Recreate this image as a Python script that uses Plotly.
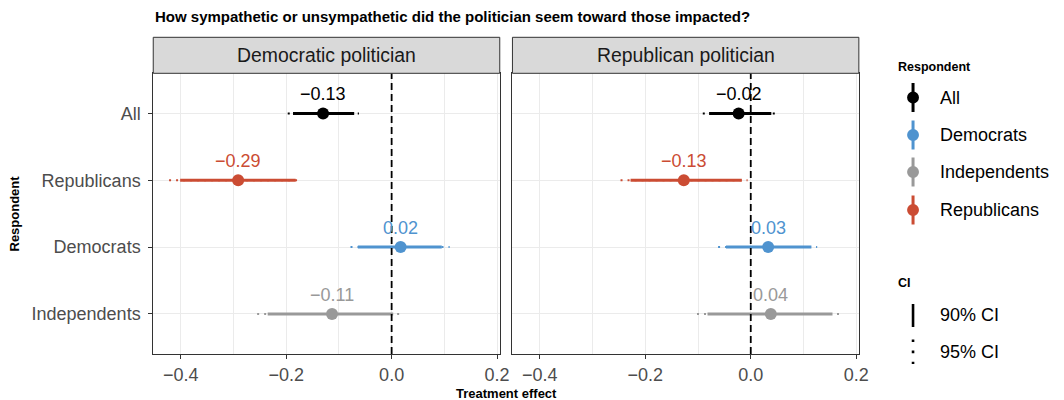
import plotly.graph_objects as go

# ---------------- data ----------------
groups = ["All", "Republicans", "Democrats", "Independents"]
panels = ["Democratic politician", "Republican politician"]

est_dem = [-0.130, -0.291, 0.017, -0.113]
lo90_dem = [-0.187, -0.401, -0.064, -0.235]
hi90_dem = [-0.071, -0.182, 0.095, 0.003]
lo95_dem = [-0.197, -0.422, -0.078, -0.255]
hi95_dem = [-0.062, -0.170, 0.110, 0.017]

est_rep = [-0.023, -0.127, 0.033, 0.038]
lo90_rep = [-0.079, -0.228, -0.047, -0.082]
hi90_rep = [0.039, -0.017, 0.115, 0.155]
lo95_rep = [-0.091, -0.247, -0.062, -0.102]
hi95_rep = [0.050, -0.006, 0.126, 0.172]

legend_groups = ["All", "Democrats", "Independents", "Republicans"]
ci_labels = ["90% CI", "95% CI"]
x_ticks = [-0.4, -0.2, 0.0, 0.2]

colors = {"All": "#000000", "Democrats": "#4F93CF",
          "Independents": "#999999", "Republicans": "#CB4C33"}

W, H = 1064, 400
def fx(px):
    return px / W
def fy(py):
    return 1 - py / H

FONT = "Liberation Sans, Arial, Helvetica, sans-serif"

fig = go.Figure()

panel_data = [
    ("x", "y", est_dem, lo90_dem, hi90_dem, lo95_dem, hi95_dem),
    ("x2", "y2", est_rep, lo90_rep, hi90_rep, lo95_rep, hi95_rep),
]

annotations = []
for xa, ya, est, lo90, hi90, lo95, hi95 in panel_data:
    for i, g in enumerate(groups):
        c = colors[g]
        fig.add_trace(go.Scatter(x=[lo95[i], hi95[i]], y=[g, g], mode="lines",
                                 line=dict(color=c, width=2, dash="2px,5px"),
                                 xaxis=xa, yaxis=ya, showlegend=False, hoverinfo="skip"))
        fig.add_trace(go.Scatter(x=[lo90[i], hi90[i]], y=[g, g], mode="lines",
                                 line=dict(color=c, width=3),
                                 xaxis=xa, yaxis=ya, showlegend=False, hoverinfo="skip"))
        fig.add_trace(go.Scatter(x=[est[i]], y=[g], mode="markers",
                                 marker=dict(color=c, size=12, line=dict(width=0)),
                                 xaxis=xa, yaxis=ya, showlegend=False))
        label = f"{est[i]:.2f}".replace("-", "\u2212")
        annotations.append(dict(x=est[i], y=g, xref=xa, yref=ya, text=label,
                                showarrow=False, yshift=19,
                                font=dict(size=18, color=c, family=FONT)))

# zero reference lines
shapes = []
for xa, ya in [("x", "y"), ("x2", "y2")]:
    shapes.append(dict(type="line", xref=xa, yref=ya + " domain", x0=0, x1=0, y0=0, y1=1,
                       line=dict(color="#000000", width=1.8, dash="7px,4px"), layer="above"))

# panel domains (pixels)
left_dom = [fx(154.7), fx(504.5)]
right_dom = [fx(517.3), fx(867.0)]
y_dom = [fy(354.0), fy(73.3)]
strip_top = fy(37.3)

# strips
for dom, name in [(left_dom, panels[0]), (right_dom, panels[1])]:
    shapes.append(dict(type="rect", xref="paper", yref="paper",
                       x0=dom[0], x1=dom[1], y0=y_dom[1], y1=strip_top,
                       fillcolor="#D9D9D9", line=dict(color="#333333", width=1)))
    annotations.append(dict(x=(dom[0] + dom[1]) / 2, y=(y_dom[1] + strip_top) / 2,
                            xref="paper", yref="paper", text=name, showarrow=False,
                            xanchor="center", yanchor="middle",
                            font=dict(size=19.4, color="#1A1A1A", family=FONT)))

# titles
annotations.append(dict(x=fx(154), y=fy(17), xref="paper", yref="paper",
                        text="<b>How sympathetic or unsympathetic did the politician seem toward those impacted?</b>",
                        showarrow=False, xanchor="left", yanchor="middle",
                        font=dict(size=15, color="#000000", family=FONT)))
annotations.append(dict(x=(left_dom[0] + right_dom[1]) / 2, y=fy(393), xref="paper", yref="paper",
                        text="<b>Treatment effect</b>", showarrow=False,
                        xanchor="center", yanchor="middle",
                        font=dict(size=13, color="#000000", family=FONT)))
annotations.append(dict(x=fx(15), y=(y_dom[0] + y_dom[1]) / 2, xref="paper", yref="paper",
                        text="<b>Respondent</b>", showarrow=False, textangle=-90,
                        xanchor="center", yanchor="middle",
                        font=dict(size=13, color="#000000", family=FONT)))

# legend: Respondent
annotations.append(dict(x=fx(904), y=fy(67), xref="paper", yref="paper",
                        text="<b>Respondent</b>", showarrow=False, xanchor="left", yanchor="middle",
                        font=dict(size=12.5, color="#000000", family=FONT)))
leg_y = [97.5, 135, 172, 210]
gx = 921.7
for g, yy in zip(legend_groups, leg_y):
    c = colors[g]
    shapes.append(dict(type="line", xref="paper", yref="paper",
                       x0=fx(gx), x1=fx(gx), y0=fy(yy - 14.5), y1=fy(yy + 14.5),
                       line=dict(color=c, width=3)))
    shapes.append(dict(type="circle", xref="paper", yref="paper",
                       x0=fx(gx - 6), x1=fx(gx + 6), y0=fy(yy + 6), y1=fy(yy - 6),
                       fillcolor=c, line=dict(width=0)))
    annotations.append(dict(x=fx(946.5), y=fy(yy), xref="paper", yref="paper", text=g,
                            showarrow=False, xanchor="left", yanchor="middle",
                            font=dict(size=18, color="#000000", family=FONT)))

# legend: CI
annotations.append(dict(x=fx(904), y=fy(282.5), xref="paper", yref="paper",
                        text="<b>CI</b>", showarrow=False, xanchor="left", yanchor="middle",
                        font=dict(size=12.5, color="#000000", family=FONT)))
shapes.append(dict(type="line", xref="paper", yref="paper",
                   x0=fx(gx), x1=fx(gx), y0=fy(304), y1=fy(327),
                   line=dict(color="#000000", width=2.6)))
shapes.append(dict(type="line", xref="paper", yref="paper",
                   x0=fx(gx), x1=fx(gx), y0=fy(339.5), y1=fy(364),
                   line=dict(color="#000000", width=2.6, dash="2.6px,8.5px")))
for lab, yy in zip(ci_labels, [315, 351.5]):
    annotations.append(dict(x=fx(946.5), y=fy(yy), xref="paper", yref="paper", text=lab,
                            showarrow=False, xanchor="left", yanchor="middle",
                            font=dict(size=18, color="#000000", family=FONT)))

xaxis_common = dict(range=[-0.452, 0.205], tickvals=x_ticks, tickformat=".1f",
                    showgrid=True, gridcolor="#EBEBEB", gridwidth=1.1,
                    minor=dict(dtick=0.1, tick0=0, showgrid=True, gridcolor="#EBEBEB",
                               gridwidth=0.6, ticks=""),
                    zeroline=False, showline=True, mirror=True, linecolor="#333333",
                    linewidth=1, ticks="outside", ticklen=4, tickwidth=1, tickcolor="#333333",
                    tickfont=dict(size=18, color="#4D4D4D", family=FONT), fixedrange=True)
yaxis_common = dict(type="category", categoryorder="array", categoryarray=groups,
                    range=[3.6, -0.6], showgrid=True, gridcolor="#EBEBEB", gridwidth=1.1,
                    zeroline=False, showline=True, mirror=True, linecolor="#333333",
                    linewidth=1, domain=y_dom, fixedrange=True)

fig.update_layout(
    width=W, height=H, autosize=False,
    margin=dict(l=0, r=0, t=0, b=0),
    paper_bgcolor="#FFFFFF", plot_bgcolor="#FFFFFF",
    showlegend=False,
    xaxis=dict(domain=left_dom, anchor="y", **xaxis_common),
    xaxis2=dict(domain=right_dom, anchor="y2", **xaxis_common),
    yaxis=dict(anchor="x", ticks="outside", ticklen=4, tickwidth=1, tickcolor="#333333",
               tickfont=dict(size=18, color="#4D4D4D", family=FONT),
               ticklabelstandoff=4, **yaxis_common),
    yaxis2=dict(anchor="x2", showticklabels=False, ticks="", **yaxis_common),
    shapes=shapes,
    annotations=annotations,
)

fig.write_html(
    "out.html",
    config={"displayModeBar": False, "responsive": False},
    post_script=("document.documentElement.style.overflow='hidden';"
                 "document.body.style.overflow='hidden';"
                 "document.body.style.margin='0';document.body.style.padding='0';"),
)
